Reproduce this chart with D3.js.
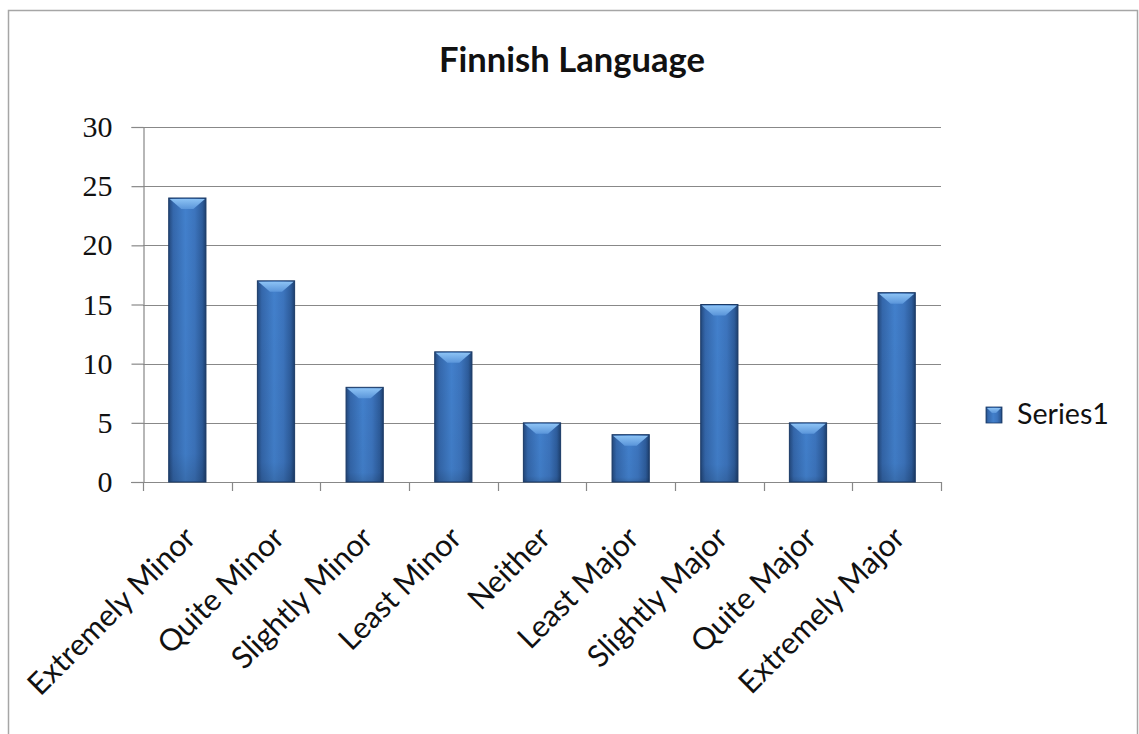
<!DOCTYPE html>
<html>
<head>
<meta charset="utf-8">
<script src="https://cdn.jsdelivr.net/npm/d3@7"></script>
<style>
  html, body { margin: 0; padding: 0; background: #ffffff; }
  svg { display: block; }
</style>
</head>
<body>
<svg id="chart" width="1139" height="734"></svg>
<script>
// Survey categories and counts
const categories = [
  "Extremely Minor", "Quite Minor", "Slightly Minor", "Least Minor",
  "Neither", "Least Major", "Slightly Major", "Quite Major", "Extremely Major"
];
const series1 = [24, 17, 8, 11, 5, 4, 15, 5, 16];
const yTicks = [0, 5, 10, 15, 20, 25, 30];
const seriesName = "Series1";
const chartTitle = "Finnish Language";

const W = 1139, H = 734;
const plot = { left: 143, right: 941, top: 127, bottom: 482 };

const svg = d3.select("#chart");

// outer chart frame
svg.append("rect")
  .attr("x", 8.5).attr("y", 10.5)
  .attr("width", 1129).attr("height", 760)
  .attr("fill", "#ffffff")
  .attr("stroke", "#a6a6a6").attr("stroke-width", 1.5);

// gradients for the bevelled bars
const defs = svg.append("defs");
const g1 = defs.append("linearGradient").attr("id", "barFace")
  .attr("x1", "0").attr("x2", "1").attr("y1", "0").attr("y2", "0");
[[0, "#23487c"], [0.12, "#3467ab"], [0.45, "#4280cc"], [0.7, "#3c74bd"], [0.9, "#2d5c9b"], [1, "#1d3f6e"]]
  .forEach(([o, c]) => g1.append("stop").attr("offset", o).attr("stop-color", c));
const g2 = defs.append("linearGradient").attr("id", "barShade")
  .attr("x1", "0").attr("x2", "0").attr("y1", "0").attr("y2", "1");
[[0, "#000", 0], [0.9, "#000", 0.04], [1, "#000", 0.15]]
  .forEach(([o, c, a]) => g2.append("stop").attr("offset", o).attr("stop-color", c).attr("stop-opacity", a));
const g3 = defs.append("linearGradient").attr("id", "barTop")
  .attr("x1", "0").attr("x2", "0").attr("y1", "0").attr("y2", "1");
[[0, "#8cc2f4"], [1, "#5a95da"]]
  .forEach(([o, c]) => g3.append("stop").attr("offset", o).attr("stop-color", c));

// scales
const x = d3.scaleBand()
  .domain(categories)
  .range([plot.left, plot.right])
  .paddingInner(0.58)
  .paddingOuter(0.29);
const y = d3.scaleLinear().domain([0, 30]).range([plot.bottom, plot.top]);

// horizontal gridlines
svg.append("g")
  .selectAll("line")
  .data(yTicks.filter(t => t > 0))
  .join("line")
  .attr("x1", plot.left).attr("x2", plot.right)
  .attr("y1", d => Math.round(y(d)) + 0.5).attr("y2", d => Math.round(y(d)) + 0.5)
  .attr("stroke", "#888888").attr("stroke-width", 1.2);

// y axis
const yAxis = svg.append("g")
  .attr("transform", `translate(${plot.left + 0.5},0)`)
  .call(d3.axisLeft(y).tickValues(yTicks).tickSize(12).tickPadding(19).tickFormat(d3.format("d")));
yAxis.select(".domain").attr("stroke", "#888888").attr("stroke-width", 1.2);
yAxis.selectAll(".tick line").attr("stroke", "#888888").attr("stroke-width", 1.2);
yAxis.selectAll(".tick text")
  .attr("font-family", "'Liberation Serif', 'DejaVu Serif', serif")
  .attr("font-size", 30).attr("fill", "#111111");

// x axis baseline and category separators
const xStep = x.step();
const boundaries = d3.range(categories.length + 1).map(i => plot.left + i * xStep);
svg.append("line")
  .attr("x1", 131).attr("x2", plot.right)
  .attr("y1", plot.bottom + 0.5).attr("y2", plot.bottom + 0.5)
  .attr("stroke", "#888888").attr("stroke-width", 1.2);
svg.append("g").selectAll("line")
  .data(boundaries)
  .join("line")
  .attr("x1", d => Math.round(d) + 0.5).attr("x2", d => Math.round(d) + 0.5)
  .attr("y1", plot.bottom).attr("y2", plot.bottom + 9)
  .attr("stroke", "#888888").attr("stroke-width", 1.2);

// bars
const bars = svg.append("g").selectAll("g")
  .data(categories.map((c, i) => ({ c, v: series1[i] })))
  .join("g");
bars.append("rect")
  .attr("x", d => x(d.c)).attr("y", d => y(d.v))
  .attr("width", x.bandwidth()).attr("height", d => y(0) - y(d.v))
  .attr("fill", "url(#barFace)");
bars.append("rect")
  .attr("x", d => x(d.c)).attr("y", d => y(d.v))
  .attr("width", x.bandwidth()).attr("height", d => y(0) - y(d.v))
  .attr("fill", "url(#barShade)")
  .attr("stroke", "#1b3a66").attr("stroke-width", 1);
bars.append("path")
  .attr("d", d => {
    const x0 = x(d.c) + 1, x1 = x(d.c) + x.bandwidth() - 1, t = y(d.v) + 1, b = 10;
    const mid = (x0 + x1) / 2;
    return `M${x0},${t} L${x1},${t} L${mid + 6},${t + b} L${mid - 6},${t + b} Z`;
  })
  .attr("fill", "url(#barTop)");

// fit a text element to a target width by adjusting its font size
function fitWidth(sel, target) {
  const node = sel.node();
  const fs = +sel.attr("font-size");
  const w = node.getComputedTextLength();
  sel.attr("font-size", (fs * target / w).toFixed(2));
}

// category labels, rotated
const labelFont = "Lato, 'Open Sans', sans-serif";
const probe = svg.append("text").attr("font-family", labelFont).attr("font-size", 30).text(categories[0]);
fitWidth(probe, 222);
const labelSize = +probe.attr("font-size");
probe.remove();

svg.append("g").selectAll("text")
  .data(categories)
  .join("text")
  .attr("transform", d => `translate(${x(d) + x.bandwidth() / 2 + 10},${plot.bottom + 58}) rotate(-45)`)
  .attr("text-anchor", "end")
  .attr("font-family", labelFont)
  .attr("font-size", labelSize)
  .attr("fill", "#111111")
  .text(d => d);

// title
const title = svg.append("text")
  .attr("x", 572).attr("y", 72)
  .attr("text-anchor", "middle")
  .attr("font-family", labelFont)
  .attr("font-weight", "bold")
  .attr("font-size", 36)
  .attr("fill", "#111111")
  .text(chartTitle);
fitWidth(title, 266);

// legend
svg.append("rect")
  .attr("x", 986).attr("y", 407).attr("width", 16).attr("height", 16)
  .attr("fill", "url(#barFace)").attr("stroke", "#1b3a66").attr("stroke-width", 0.8);
svg.append("path")
  .attr("d", "M987,408 L1001,408 L996,413 L992,413 Z")
  .attr("fill", "url(#barTop)");
const leg = svg.append("text")
  .attr("x", 1017).attr("y", 424)
  .attr("font-family", labelFont)
  .attr("font-size", 26)
  .attr("fill", "#111111")
  .text(seriesName);
fitWidth(leg, 92);
</script>
</body>
</html>
